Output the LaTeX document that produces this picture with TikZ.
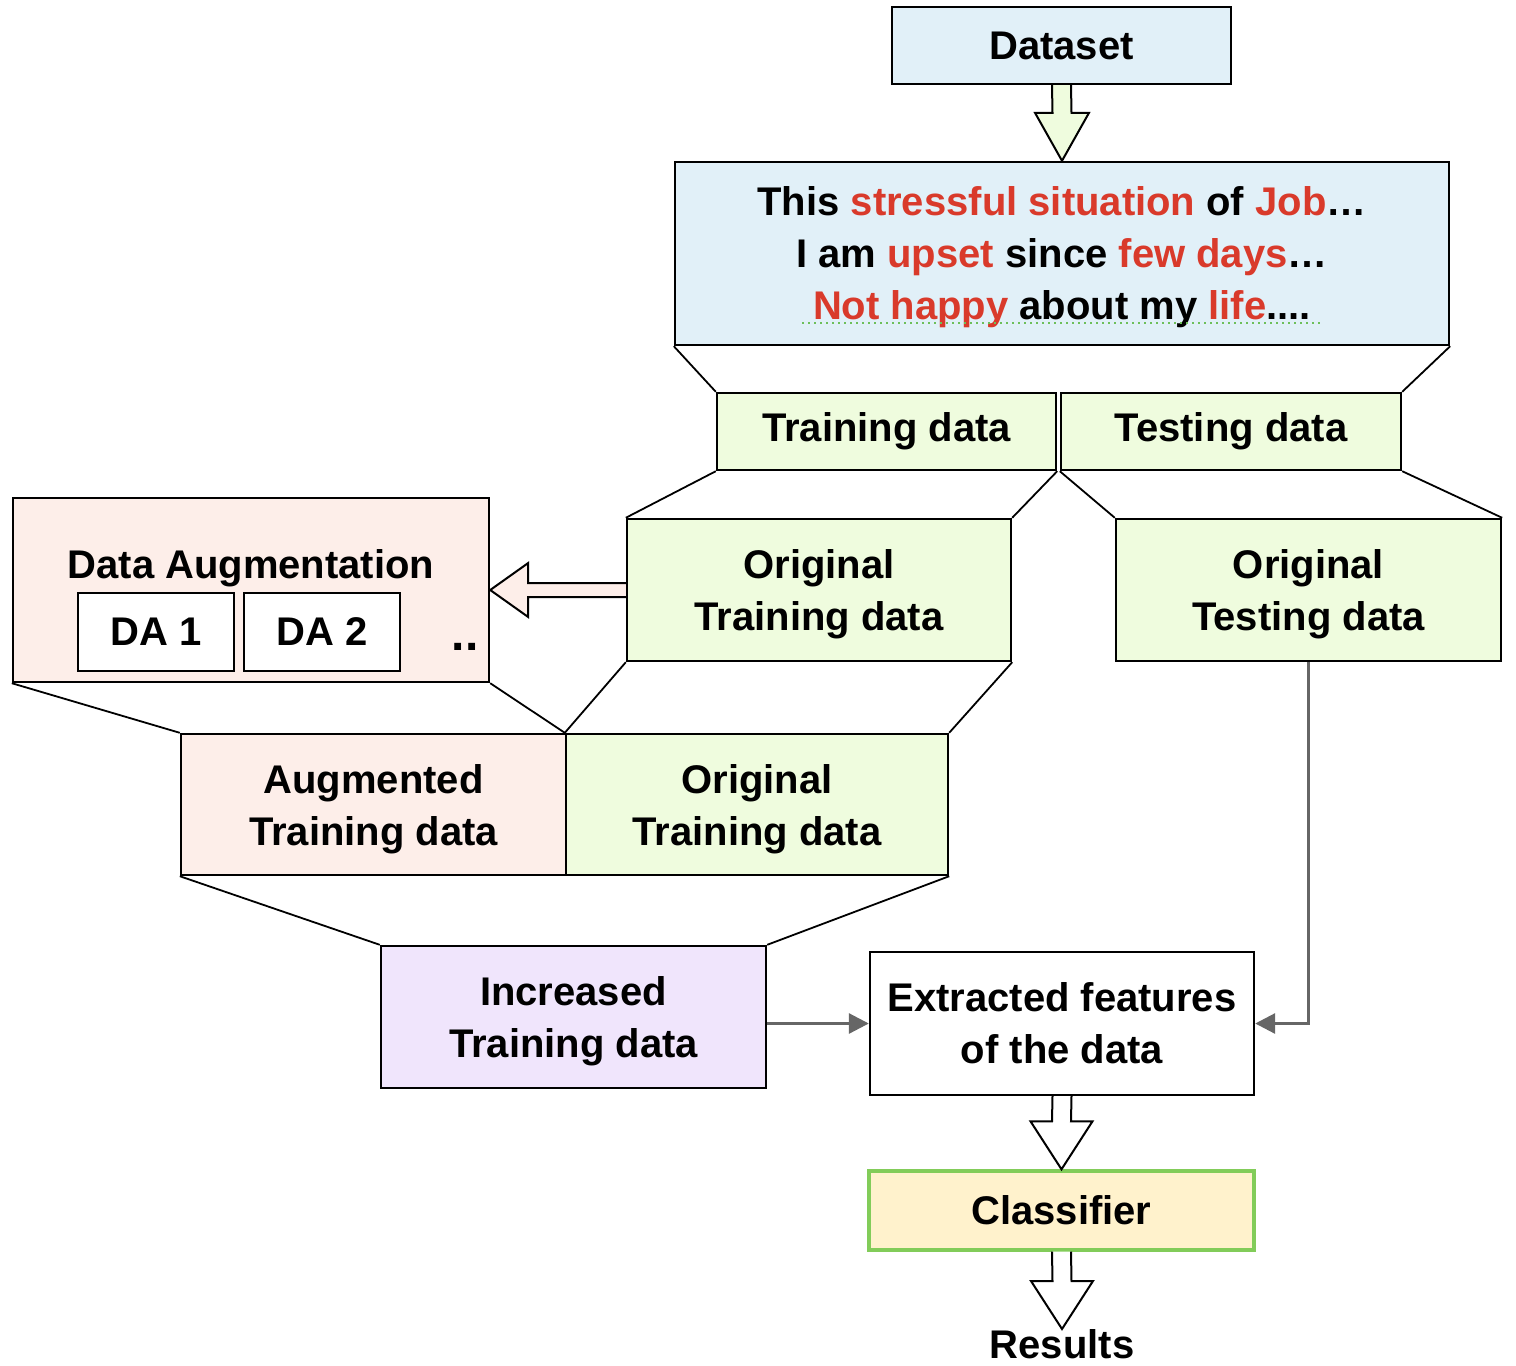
\documentclass[tikz,border=0pt]{standalone}
\usepackage{fontspec}
\setmainfont{Liberation Sans}
\usetikzlibrary{calc,arrows.meta}
\definecolor{bluefill}{HTML}{E1F0F8}
\definecolor{greenfill}{HTML}{EFFCDE}
\definecolor{pinkfill}{HTML}{FDEEE9}
\definecolor{lavfill}{HTML}{F0E5FC}
\definecolor{clffill}{HTML}{FFF2CC}
\definecolor{clfborder}{HTML}{82CC59}
\definecolor{redtxt}{HTML}{D93A2B}
\definecolor{grayline}{HTML}{666666}
\definecolor{spellgreen}{HTML}{6DBF5A}
\newcommand\rt[1]{\textcolor{redtxt}{#1}}
\newcommand\dnblock[4]{%
  \draw[line width=1pt, line join=miter, fill=#3]
    ($(#1)+(-9.5,0)$) -- ($(#2)+(-9.5,-48)$) -- ($(#2)+(-#4,-48)$) -- (#2)
    -- ($(#2)+(#4,-48)$) -- ($(#2)+(9.5,-48)$) -- ($(#1)+(9.5,0)$);}
\begin{document}
\begin{tikzpicture}[x=0.5pt,y=-0.5pt,
  lbl/.style={font=\fontsize{20pt}{26pt}\selectfont\bfseries, align=center},
  box/.style={lbl, draw, line width=1.2pt, inner sep=0pt},
  nodepth/.style={text depth=0pt},
  link/.style={line width=0.9pt},
  grayarrow/.style={draw=grayline, line width=1.5pt, -{Triangle[length=10pt,width=10pt]}}]
\useasboundingbox (0,0) rectangle (1516,1366);

% nodes
\node[box, fill=bluefill, minimum width=169.5pt, minimum height=38.5pt] (dataset) at (1061.5,45.5) {Dataset};
\node[box, nodepth, fill=bluefill, minimum width=387pt, minimum height=91.5pt] (text) at (1062,253.5)
  {This \rt{stressful situation} of \rt{Job}…\\ I am \rt{upset} since \rt{few days}…\\ \rt{Not happy} about my \rt{life}....};
\node[box, fill=greenfill, minimum width=169.5pt, minimum height=38.5pt] (train) at (886.5,431.5) {Training data};
\node[box, fill=greenfill, minimum width=170pt, minimum height=38.5pt] (test) at (1231,431.5) {Testing data};
\node[box, nodepth, fill=greenfill, minimum width=192pt, minimum height=71pt] (otrain) at (819,590) {Original\\Training data};
\node[box, nodepth, fill=greenfill, minimum width=192.5pt, minimum height=71pt] (otest) at (1308.5,590) {Original\\Testing data};
\node[box, fill=pinkfill, minimum width=238pt, minimum height=92pt] (da) at (251,590) {};
\node[lbl] (datitle) at (251,568) {Data Augmentation};
\node[box, fill=white, minimum width=78pt, minimum height=39pt] (da1) at (156,632) {DA 1};
\node[box, fill=white, minimum width=78pt, minimum height=39pt] (da2) at (322,632) {DA 2};
\node[lbl, font=\fontsize{24pt}{26pt}\selectfont\bfseries] (dots) at (465,647) {..};
\node[box, nodepth, fill=pinkfill, minimum width=192.5pt, minimum height=70.5pt] (aug) at (373.5,804.5) {Augmented\\Training data};
\node[box, nodepth, fill=greenfill, minimum width=191pt, minimum height=70.5pt] (otrain2) at (757,804.5) {Original\\Training data};
\node[box, nodepth, fill=lavfill, minimum width=192.5pt, minimum height=71pt] (inc) at (573.5,1017) {Increased\\Training data};
\node[box, fill=white, minimum width=192pt, minimum height=71.5pt] (feat) at (1062,1023.5) {Extracted features\\of the data};
\node[box, fill=clffill, draw=clfborder, line width=1.7pt, minimum width=192.5pt, minimum height=39.5pt] (clf) at (1061.5,1210.5) {Classifier};
\node[lbl, inner sep=0pt, anchor=north] (results) at (1062,1329) {Results};

% spell-check underline
\draw[spellgreen, dotted, line width=1pt] (802,323) -- (1323,323);

% split lines
\draw[link] (text.south west) -- (train.north west);
\draw[link] (text.south east) -- (test.north east);
\draw[link] (train.south west) -- (otrain.north west);
\draw[link] (train.south east) -- (otrain.north east);
\draw[link] (test.south west) -- (otest.north west);
\draw[link] (test.south east) -- (otest.north east);
\draw[link] (da.south west) -- (aug.north west);
\draw[link] (da.south east) -- (otrain2.north west);
\draw[link] (otrain.south west) -- (otrain2.north west);
\draw[link] (otrain.south east) -- (otrain2.north east);
\draw[link] (aug.south west) -- (inc.north west);
\draw[link] (otrain2.south east) -- (inc.north east);

% block arrows
\dnblock{dataset.south}{text.north}{greenfill}{27}
\dnblock{feat.south}{clf.north}{white}{31}
\dnblock{clf.south}{results.north}{white}{31}
\draw[line width=1pt, line join=miter, fill=pinkfill]
  ($(otrain.west)+(0,-7)$) -- ($(da.east)+(38,-7)$) -- ($(da.east)+(38,-27)$) -- (da.east)
  -- ($(da.east)+(38,27)$) -- ($(da.east)+(38,7)$) -- ($(otrain.west)+(0,7)$);

% gray arrows
\draw[grayarrow] (inc.east |- feat.west) -- (feat.west);
\draw[grayarrow] (otest.south) -- (otest.south |- feat.east) -- (feat.east);
\end{tikzpicture}
\end{document}
